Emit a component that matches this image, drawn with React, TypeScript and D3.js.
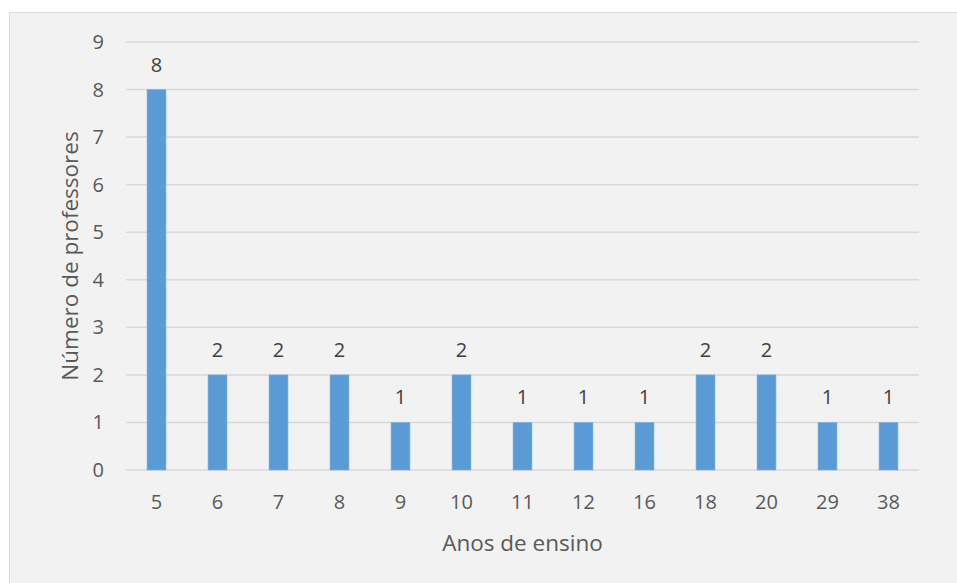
import { useRef, useEffect } from 'react';
import * as d3 from 'd3';

// Anos de ensino vs número de professores
const categories = ['5', '6', '7', '8', '9', '10', '11', '12', '16', '18', '20', '29', '38'];
const values = [8, 2, 2, 2, 1, 2, 1, 1, 1, 2, 2, 1, 1];
const yTicks = [0, 1, 2, 3, 4, 5, 6, 7, 8, 9];

const width = 957;
const height = 583;
const font = "'Open Sans', 'Noto Sans', sans-serif";

export default function App() {
  const svgRef = useRef<SVGSVGElement>(null);

  useEffect(() => {
    if (!svgRef.current) return;
    const svg = d3.select(svgRef.current);
    svg.selectAll('*').remove();

    // chart background + border
    svg.append('rect')
      .attr('x', 9.5).attr('y', 12.5)
      .attr('width', width).attr('height', height)
      .attr('fill', '#f2f2f2')
      .attr('stroke', '#d9d9d9')
      .attr('stroke-width', 1);

    const plot = { left: 126, right: 919, top: 42, bottom: 470 };

    const x = d3.scaleBand<string>()
      .domain(categories)
      .range([plot.left, plot.right])
      .paddingInner(0.69)
      .paddingOuter(0.345);

    const y = d3.scaleLinear()
      .domain([0, 9])
      .range([plot.bottom, plot.top]);

    // gridlines
    svg.append('g')
      .selectAll('line')
      .data(yTicks)
      .enter().append('line')
      .attr('x1', plot.left).attr('x2', plot.right)
      .attr('y1', d => y(d)).attr('y2', d => y(d))
      .attr('stroke', '#d9d9d9')
      .attr('stroke-width', 1.5);

    // y tick labels
    svg.append('g')
      .selectAll('text')
      .data(yTicks)
      .enter().append('text')
      .attr('x', 104)
      .attr('y', d => y(d))
      .attr('dy', '0.35em')
      .attr('text-anchor', 'end')
      .attr('fill', '#595959')
      .style('font-family', font)
      .style('font-size', '20px')
      .text(d => d);

    // bars
    svg.append('g')
      .selectAll('rect')
      .data(values)
      .enter().append('rect')
      .attr('x', (_, i) => x(categories[i]) as number)
      .attr('y', d => y(d))
      .attr('width', x.bandwidth())
      .attr('height', d => y(0) - y(d))
      .attr('fill', '#5b9bd5')
      .attr('stroke', '#7fb2e0')
      .attr('stroke-width', 0.6);

    // data labels
    svg.append('g')
      .selectAll('text')
      .data(values)
      .enter().append('text')
      .attr('x', (_, i) => (x(categories[i]) as number) + x.bandwidth() / 2)
      .attr('y', d => y(d) - 18)
      .attr('text-anchor', 'middle')
      .attr('fill', '#404040')
      .style('font-family', font)
      .style('font-size', '20px')
      .text(d => d);

    // x tick labels
    svg.append('g')
      .selectAll('text')
      .data(categories)
      .enter().append('text')
      .attr('x', d => (x(d) as number) + x.bandwidth() / 2)
      .attr('y', 502)
      .attr('dy', '0.35em')
      .attr('text-anchor', 'middle')
      .attr('fill', '#595959')
      .style('font-family', font)
      .style('font-size', '20px')
      .text(d => d);

    // axis titles
    svg.append('text')
      .attr('x', (plot.left + plot.right) / 2)
      .attr('y', 543)
      .attr('dy', '0.35em')
      .attr('text-anchor', 'middle')
      .attr('fill', '#595959')
      .style('font-family', font)
      .style('font-size', '22.5px')
      .text('Anos de ensino');

    svg.append('text')
      .attr('transform', `translate(70,${(plot.top + plot.bottom) / 2}) rotate(-90)`)
      .attr('dy', '0.35em')
      .attr('text-anchor', 'middle')
      .attr('fill', '#595959')
      .style('font-family', font)
      .style('font-size', '22.5px')
      .text('Número de professores');
  }, []);

  return (
    <svg
      ref={svgRef}
      width={width}
      height={height}
      style={{ position: 'absolute', left: 0, top: 0, background: '#fff' }}
    />
  );
}
